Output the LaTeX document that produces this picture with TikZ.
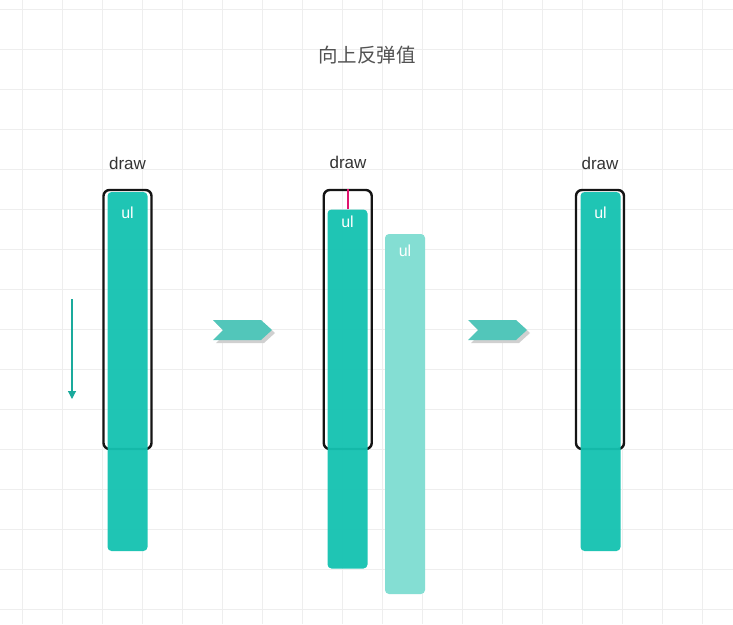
\documentclass[tikz,border=0pt]{standalone}
\usepackage{fontspec}
\setmainfont{Liberation Sans}
\newfontfamily\cjk{Noto Sans CJK SC}
\usetikzlibrary{arrows.meta}
\definecolor{gridc}{HTML}{EEEEEE}
\definecolor{teal1}{HTML}{14C2B1}
\definecolor{teal2}{HTML}{84DED3}
\definecolor{chev}{HTML}{52C6BA}
\definecolor{chevsh}{HTML}{D0D0D0}
\definecolor{arrc}{HTML}{1AAA9C}
\definecolor{magc}{HTML}{E0146E}
\definecolor{txt}{HTML}{333333}
\tikzset{
  framebox/.style={draw=black!92, line width=2.4pt, rounded corners=6pt, inner sep=0pt, minimum width=48pt, minimum height=259pt},
  bar/.style={fill=teal1, fill opacity=0.95, rounded corners=4pt, inner sep=0pt, minimum width=40pt, minimum height=359pt},
  ghostbar/.style={fill=teal2, rounded corners=4pt, inner sep=0pt, minimum width=40pt, minimum height=360pt},
  drawlbl/.style={text=txt, font=\fontsize{17}{20}\selectfont, inner sep=0pt},
  ullbl/.style={text=white, font=\fontsize{16}{19}\selectfont, inner sep=0pt},
}
\begin{document}
\begin{tikzpicture}[x=1pt,y=-1pt]
\useasboundingbox (0,0) rectangle (733,624);
\fill[white] (0,0) rectangle (733,624);
\foreach \gx in {22,62,...,742} \draw[gridc, line width=0.8pt] (\gx,0) -- (\gx,624);
\foreach \gy in {9,49,...,629} \draw[gridc, line width=0.8pt] (0,\gy) -- (733,\gy);

\node[text=black!68, font=\cjk\fontsize{19.5}{22}\selectfont, inner sep=0pt] (title) at (367,55) {向上反弹值};

% left
\node[drawlbl] (d1) at (127.5,163) {draw};
\node[framebox] (box1) at (127.5,319.5) {};
\node[bar] (bar1) at (127.5,371.5) {};
\node[ullbl] (u1) at (127.5,213) {ul};
\coordinate (a1) at (72,299);
\coordinate (a2) at (72,399);
\draw[arrc, line width=1.1pt, -{Triangle[length=8pt,width=8pt]}] (a1) -- (a2);

% chevrons
\fill[chevsh] (216,323) -- (264,323) -- (275,333) -- (264,343) -- (216,343) -- (226,333) -- cycle;
\fill[chev] (213,320) -- (261,320) -- (272,330) -- (261,340) -- (213,340) -- (223,330) -- cycle;
\fill[chevsh] (471,323) -- (519,323) -- (530,333) -- (519,343) -- (471,343) -- (481,333) -- cycle;
\fill[chev] (468,320) -- (516,320) -- (527,330) -- (516,340) -- (468,340) -- (478,330) -- cycle;

% middle
\node[drawlbl] (d2) at (348,162) {draw};
\node[framebox] (box2) at (347.75,319.5) {};
\node[bar] (bar2) at (347.5,389) {};
\node[ullbl] (u2) at (347.5,222) {ul};
\draw[draw=magc, line width=1.6pt, opacity=1] (box2.north) -- (box2.north |- bar2.north);
\node[ghostbar] (bar3) at (405,414) {};
\node[ullbl] (u3) at (405,251) {ul};

% right
\node[drawlbl] (d3) at (600,163) {draw};
\node[framebox] (box4) at (600,319.5) {};
\node[bar] (bar4) at (600.5,371.5) {};
\node[ullbl] (u4) at (600.5,213) {ul};
\end{tikzpicture}
\end{document}
